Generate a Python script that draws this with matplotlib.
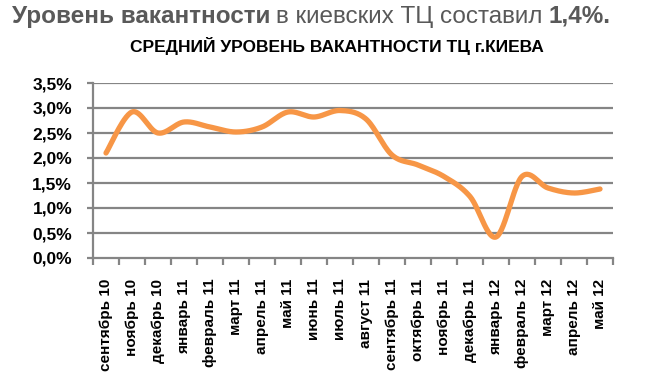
import numpy as np
import matplotlib
matplotlib.use("Agg")
import matplotlib.pyplot as plt
from matplotlib.ticker import FixedLocator, FixedFormatter

categories = ["сентябрь 10", "ноябрь 10", "декабрь 10", "январь 11", "февраль 11",
              "март 11", "апрель 11", "май 11", "июнь 11", "июль 11", "август 11",
              "сентябрь 11", "октябрь 11", "ноябрь 11", "декабрь 11", "январь 12",
              "февраль 12", "март 12", "апрель 12", "май 12"]
values = [2.1, 2.92, 2.5, 2.72, 2.62, 2.52, 2.62, 2.92, 2.82, 2.95, 2.78,
          2.06, 1.86, 1.63, 1.23, 0.42, 1.63, 1.4, 1.3, 1.38]
ytick_values = [0, 0.5, 1.0, 1.5, 2.0, 2.5, 3.0, 3.5]
ytick_labels = ["0,0%", "0,5%", "1,0%", "1,5%", "2,0%", "2,5%", "3,0%", "3,5%"]

title_parts = [("Уровень вакантности", "bold"), ("в киевских ТЦ составил", "normal"), ("1,4%.", "bold")]
subtitle = "СРЕДНИЙ УРОВЕНЬ ВАКАНТНОСТИ ТЦ г.КИЕВА"

plt.rcParams['font.family'] = ['Liberation Sans', 'DejaVu Sans']

W, H = 648, 376
fig = plt.figure(figsize=(W / 100, H / 100), dpi=100)
ax = fig.add_axes([93 / W, 1 - 258 / H, (613 - 93) / W, (258 - 83) / H])

# smoothed line (Excel-like Bezier through points)
x = np.arange(len(values), dtype=float)
y = np.array(values, dtype=float)
n = len(x)
xs, ys = [], []
t = np.linspace(0, 1, 30)
for i in range(n - 1):
    p0 = np.array([x[i], y[i]])
    p3 = np.array([x[i + 1], y[i + 1]])
    pm = np.array([x[i - 1], y[i - 1]]) if i > 0 else p0
    pp = np.array([x[i + 2], y[i + 2]]) if i + 2 < n else p3
    c1 = p0 + (p3 - pm) / 6.0
    c2 = p3 - (pp - p0) / 6.0
    pts = ((1 - t) ** 3)[:, None] * p0 + (3 * (1 - t) ** 2 * t)[:, None] * c1 + \
          (3 * (1 - t) * t ** 2)[:, None] * c2 + (t ** 3)[:, None] * p3
    xs.extend(pts[:, 0]); ys.extend(pts[:, 1])

grid_c = '#858585'
for v in ytick_values[1:]:
    ax.axhline(v, color=grid_c, lw=1.6, zorder=1)
ax.plot(xs, ys, color='#F79646', lw=3.8, solid_capstyle='round', zorder=3)

ax.set_xlim(-0.5, len(values) - 0.5)
ax.set_ylim(0, 3.5)
for s in ['top', 'right']:
    ax.spines[s].set_visible(False)
for s in ['left', 'bottom']:
    ax.spines[s].set_color(grid_c)
    ax.spines[s].set_linewidth(1.6)

ax.set_yticks(ytick_values)
ax.set_yticklabels(ytick_labels, fontsize=12.5, fontweight='bold', color='black')
ax.tick_params(axis='y', length=4, width=1.6, color=grid_c, pad=11)

ax.xaxis.set_major_locator(FixedLocator(np.arange(-0.5, len(values), 1.0)))
ax.xaxis.set_major_formatter(FixedFormatter([""] * (len(values) + 1)))
ax.xaxis.set_minor_locator(FixedLocator(x))
ax.xaxis.set_minor_formatter(FixedFormatter(categories))
ax.tick_params(axis='x', which='major', length=5, width=1.6, color=grid_c)
ax.tick_params(axis='x', which='minor', length=0, pad=15)
for lab in ax.xaxis.get_minorticklabels():
    lab.set_rotation(90)
    lab.set_fontsize(11)
    lab.set_fontweight('bold')
    lab.set_color('black')

# title with mixed weights
renderer = fig.canvas.get_renderer()
xpos = 12
for txt, wt in title_parts:
    tt = fig.text(xpos / W, 1 - 23 / H, txt, fontsize=17.5, fontweight=wt,
                  color='#595959', ha='left', va='baseline')
    bb = tt.get_window_extent(renderer)
    xpos = bb.x1 + 6

fig.text(337 / W, 1 - 52 / H, subtitle, fontsize=12.5, fontweight='bold',
         color='black', ha='center', va='baseline')

fig.savefig('out.png', dpi=100, facecolor='white')
